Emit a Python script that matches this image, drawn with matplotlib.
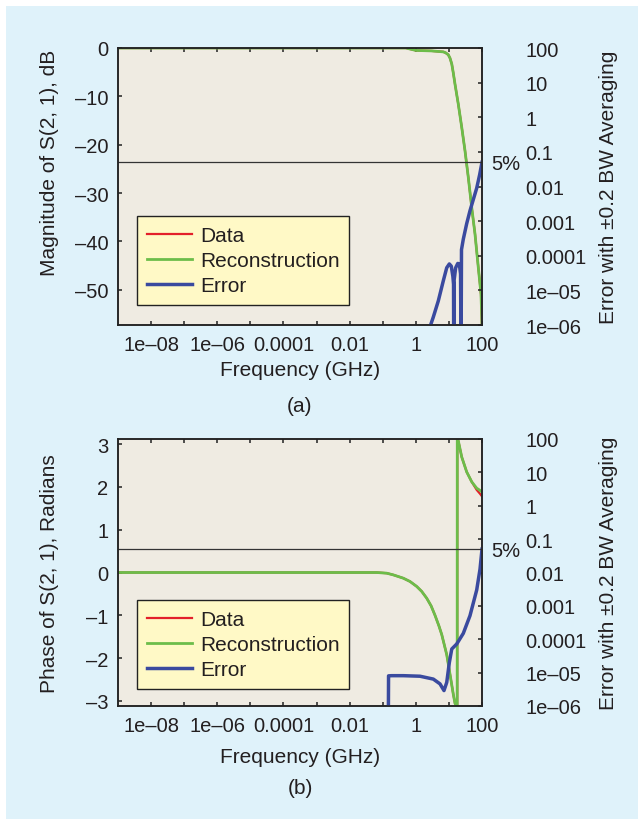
import numpy as np
import matplotlib.pyplot as plt
from matplotlib.patches import Rectangle

plt.rcParams['font.family'] = ['Liberation Sans', 'DejaVu Sans']

# axis ticks and their labels
freq_ticks = [10.0**k for k in range(-8, 3)]
freq_labels = ['1e–08', '', '1e–06', '', '0.0001', '', '0.01', '', '1', '', '100']
err_ticks = [1e2, 1e1, 1e0, 1e-1, 1e-2, 1e-3, 1e-4, 1e-5, 1e-6]
err_labels = ['100', '10', '1', '0.1', '0.01', '0.001', '0.0001', '1e–05', '1e–06']
mag_ticks = [0, -10, -20, -30, -40, -50]
mag_labels = ['0', '–10', '–20', '–30', '–40', '–50']
ph_ticks = [3, 2, 1, 0, -1, -2, -3]
ph_labels = ['3', '2', '1', '0', '–1', '–2', '–3']

# (a) magnitude, dB  (data lies under the reconstruction)
mag_f = [1e-9, 0.5, 1.0, 3.0, 6.8, 8.0, 9.6, 10.8, 12.2, 13.6, 15.3, 19.2,
         24.4, 30.7, 38.6, 48.9, 61.5, 77.3, 93.3, 97.0, 100.0]
mag_recon = [0.0, 0.0, -0.5, -0.6, -0.8, -1.0, -1.4, -2.1, -3.3, -5.2, -7.5,
             -11.6, -16.4, -21.3, -26.8, -33.0, -38.5, -45.4, -50.9, -54.5,
             -57.5]
mag_data = [0.0, 0.0, -0.5, -0.6, -0.8, -1.0, -1.4, -2.1, -3.3, -5.2, -7.5,
            -11.6, -16.4, -21.3, -26.8, -33.0, -38.5, -45.4, -50.9, -54.6,
            -57.8]
mag_err_f = [2.56, 2.8, 3.38, 4.79, 6.78, 8.59, 10.3, 11.8, 13.2, 13.8, 14.0,
             14.4, 16.0, 18.5, 20.6, 22.5, 23.3, 24.0, 27.2, 34.5, 43.4, 54.6,
             69.2, 85.0, 100.0]
mag_err = [5e-7, 1.0e-6, 1.7e-6, 5.0e-6, 1.9e-5, 4.5e-5, 5.8e-5, 5.0e-5, 2.5e-5,
           1.5e-5, 1e-7, 2.0e-5, 4.5e-5, 6.0e-5, 5.8e-5, 3.0e-5, 1e-7, 1.5e-4,
           3.0e-4, 8.5e-4, 2.0e-3, 4.2e-3, 9.0e-3, 2.2e-2, 5.0e-2]

# (b) phase, radians
ph_f = [1e-9, 0.0658, 0.132, 0.209, 0.419, 0.667, 1.06, 1.5, 2.13, 2.9, 3.80,
        5.0, 6.07, 7.2, 8.59, 10.8, 13.6, 15.3, 17.0, 17.8, 17.9, 19.2, 24.4,
        34.5, 48.9, 69.2, 87.1, 100.0]
ph_recon = [0.0, 0.0, -0.016, -0.056, -0.133, -0.21, -0.325, -0.44, -0.60,
            -0.78, -1.0, -1.25, -1.45, -1.68, -1.92, -2.38, -2.85, -3.06,
            -3.12, -3.14, 3.14, 3.08, 2.70, 2.35, 2.12, 1.97, 1.92, 1.88]
ph_data = [0.0, 0.0, -0.016, -0.056, -0.133, -0.21, -0.325, -0.44, -0.60,
           -0.78, -1.0, -1.25, -1.45, -1.68, -1.92, -2.38, -2.85, -3.06,
           -3.12, -3.14, 3.14, 3.08, 2.70, 2.35, 2.12, 1.93, 1.84, 1.78]
ph_err_f = [0.148, 0.150, 0.187, 0.42, 1.34, 3.38, 5.38, 7.1, 8.6, 10.3, 12.2,
            17.2, 27.2, 43.4, 69.2, 87.1, 100.0]
ph_err = [5e-7, 8.0e-6, 8.1e-6, 8.1e-6, 7.8e-6, 6.4e-6, 4.6e-6, 2.9e-6, 5.1e-6,
          2.0e-5, 5.1e-5, 7.2e-5, 1.5e-4, 5.1e-4, 3.0e-3, 1.26e-2, 5.0e-2]

limit = 0.05

text_c = '#231f20'
red = '#e3202a'
green = '#6cbd4a'
blue = '#3a4a9f'

fig = plt.figure(figsize=(6.44, 8.29), dpi=100)
fig.patch.set_facecolor('white')
fig.add_artist(Rectangle((6 / 644, 1 - 820 / 829), 632 / 644, 813 / 829,
                         transform=fig.transFigure, facecolor='#dff2fa',
                         edgecolor='none', zorder=-10))


def panel(rect, f, data, recon, ef, err, ylim, yt, ytl, ylabel, ylab_y,
          xlab_y, leg_y):
    ax = fig.add_axes(rect)
    ax.set_facecolor('#efebe2')
    ax.plot(f, data, color=red, lw=1.6)
    ax.plot(f, recon, color=green, lw=2.0)
    ax.set_xscale('log')
    ax.set_xlim(1e-9, 100)
    ax.set_ylim(*ylim)
    ax.set_xticks(freq_ticks)
    ax.set_xticklabels(freq_labels)
    ax.xaxis.set_minor_locator(plt.NullLocator())
    ax.set_yticks(yt)
    ax.set_yticklabels(ytl)
    ax.tick_params(axis='x', direction='in', top=True, length=3, width=1.1,
                   pad=7, labelsize=14.5, colors='#222', labelcolor=text_c)
    ax.tick_params(axis='y', direction='in', length=3, width=1.1, pad=7,
                   labelsize=14.5, colors='#222', labelcolor=text_c)
    ax.set_xlabel('Frequency (GHz)', fontsize=15, color=text_c)
    ax.xaxis.set_label_coords(0.5, xlab_y)
    ax.set_ylabel(ylabel, fontsize=15, color=text_c)
    ax.yaxis.set_label_coords(-0.162, ylab_y)

    axr = ax.twinx()
    axr.plot(ef, err, color=blue, lw=2.5)
    axr.axhline(limit, color='#333333', lw=0.9)
    axr.set_yscale('log')
    axr.set_ylim(1e-6, 100)
    axr.set_yticks(err_ticks)
    axr.set_yticklabels(err_labels)
    axr.yaxis.set_minor_locator(plt.NullLocator())
    axr.tick_params(axis='y', direction='in', length=3, width=1.1, pad=31,
                    labelsize=14.5, colors='#222', labelcolor=text_c)
    axr.set_ylabel('Error with ±0.2 BW Averaging', fontsize=15, color=text_c)
    axr.yaxis.set_label_coords(1.322, 0.5)
    axr.annotate('5%', xy=(1, limit), xycoords=('axes fraction', 'data'),
                 xytext=(6.5, -1), textcoords='offset points', va='center',
                 ha='left', fontsize=14.5, color=text_c)
    for a in (ax, axr):
        for s in a.spines.values():
            s.set_linewidth(1.1)
            s.set_color('#222')

    handles = ax.get_lines() + axr.get_lines()[:1]
    leg = axr.legend(handles, ['Data', 'Reconstruction', 'Error'],
                     loc='lower left', bbox_to_anchor=(0.052, leg_y),
                     borderaxespad=0, fontsize=15, handlelength=2.2,
                     handletextpad=0.37, borderpad=0.46, labelspacing=0.3,
                     fancybox=False, framealpha=1, facecolor='#fff9c6',
                     edgecolor='#222')
    leg.get_frame().set_linewidth(1.0)
    for t in leg.get_texts():
        t.set_color(text_c)
    return ax


panel([118 / 644, 1 - 326 / 829, 364 / 644, 277 / 829], mag_f, mag_data,
      mag_recon, mag_err_f, mag_err, (-57.3, 0), mag_ticks, mag_labels,
      'Magnitude of S(2, 1), dB', 0.588, -0.128, 0.072)
fig.text(300 / 644, 1 - 406.7 / 829, '(a)', ha='center', va='center',
         fontsize=15, color=text_c)

panel([118 / 644, 1 - 707 / 829, 364 / 644, 267 / 829], ph_f, ph_data,
      ph_recon, ph_err_f, ph_err, (-3.12, 3.12), ph_ticks, ph_labels,
      'Phase of S(2, 1), Radians', 0.5, -0.155, 0.064)
fig.text(300 / 644, 1 - 788.3 / 829, '(b)', ha='center', va='center',
         fontsize=15, color=text_c)

fig.savefig('out.png', dpi=100, facecolor=fig.get_facecolor())
